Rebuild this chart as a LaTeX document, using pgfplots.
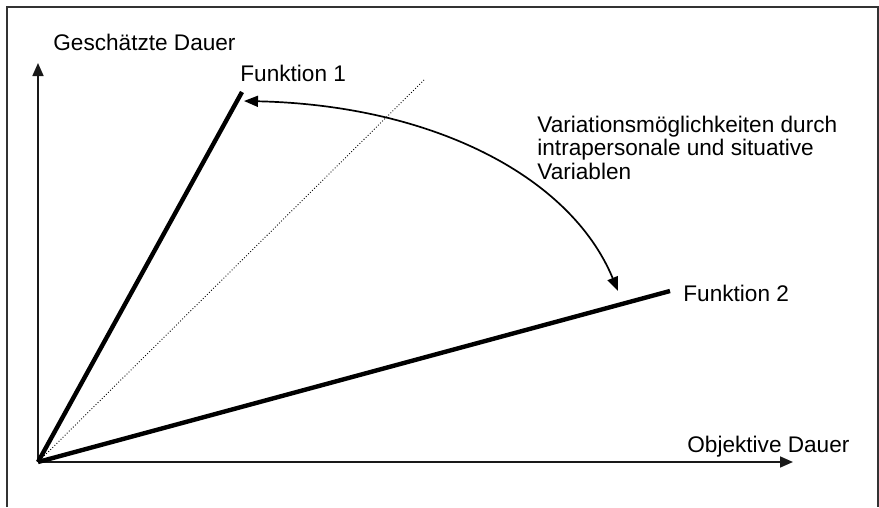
\documentclass[border=0pt]{standalone}
\usepackage{fontspec}
\setmainfont{Liberation Sans}
\usepackage{pgfplots}
\pgfplotsset{compat=1.18}
\usetikzlibrary{arrows.meta}
\begin{document}
\fontsize{11.3}{12}\selectfont
\begin{tikzpicture}
\begin{axis}[
  x=0.5pt, y=0.5pt,
  xmin=0, xmax=755, ymin=0, ymax=399,
  axis lines=left,
  axis line style={line width=0.85pt, black!90},
  x axis line style={-{Triangle[length=6.5pt,width=5.5pt]}},
  y axis line style={-{Triangle[length=6.5pt,width=5.5pt]}},
  ticks=none,
  clip=false,
]
% bounding box of the whole image (879 x 507 px)
\path (axis cs:-38,-45) rectangle (axis cs:841,462);
% frame
\draw[line width=0.75pt, black!80] (axis cs:-31,-45) -- (axis cs:-31,455) -- (axis cs:840,455) -- (axis cs:840,-45);
% diagonal (dotted)
\addplot[black, line width=0.45pt, densely dotted] coordinates {(0,0) (386,382)};
% Funktion 1
\addplot[black, line width=2.2pt] coordinates {(0,0) (204,370)};
% Funktion 2
\addplot[black, line width=2.2pt] coordinates {(0,0) (632,171)};
% curved double arrow
\draw[line width=0.85pt, {Triangle[length=7pt,width=5.5pt]}-{Triangle[length=7pt,width=5.5pt]}]
  (axis cs:206,361) .. controls (axis cs:392,357) and (axis cs:532,287) .. (axis cs:580,171);
% texts
\node[anchor=base west, inner sep=0pt] at (axis cs:15,412) {Geschätzte Dauer};
\node[anchor=base west, inner sep=0pt] at (axis cs:202,380) {Funktion 1};
\node[anchor=base west, inner sep=0pt] at (axis cs:499,330) {Variationsmöglichkeiten durch};
\node[anchor=base west, inner sep=0pt] at (axis cs:499,306.5) {intrapersonale und situative};
\node[anchor=base west, inner sep=0pt] at (axis cs:499,283) {Variablen};
\node[anchor=base west, inner sep=0pt] at (axis cs:645,161) {Funktion 2};
\node[anchor=base west, inner sep=0pt] at (axis cs:649,10) {Objektive Dauer};
\end{axis}
\end{tikzpicture}
\end{document}
